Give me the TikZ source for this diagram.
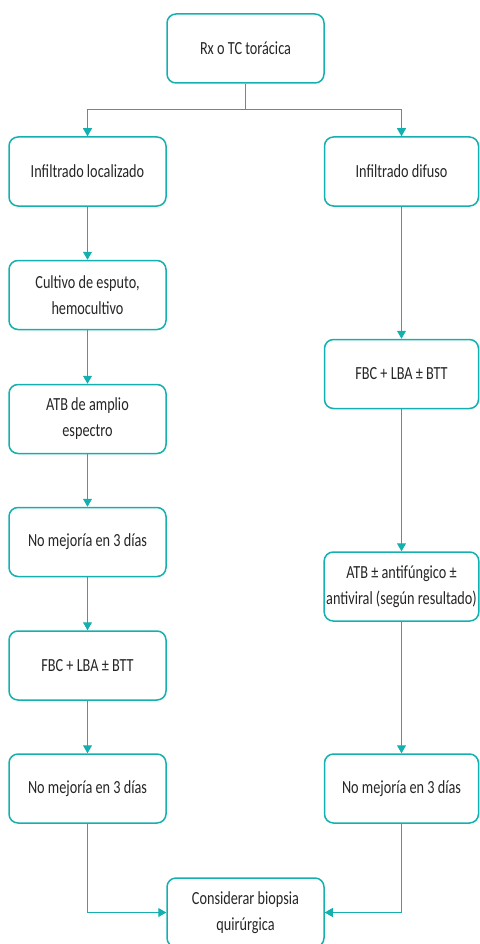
\documentclass[tikz,border=0pt]{standalone}
\usepackage{fontspec}
\setmainfont{Carlito}[FakeStretch=0.77]
\usetikzlibrary{arrows.meta}
\definecolor{tealc}{HTML}{14B0B0}
\definecolor{txt}{HTML}{262626}
\begin{document}
\begin{tikzpicture}[x=1pt,y=-1pt,
  box/.style={draw=tealc, line width=1.5pt, rounded corners=9pt, minimum width=157pt, minimum height=69pt,
    inner sep=2pt, align=center, text=txt, font=\fontsize{18.5}{26}\selectfont},
  rbox/.style={box, minimum width=154pt},
  arr/.style={draw=tealc, line width=1pt, -{Triangle[length=8pt,width=9pt]}},
  ln/.style={draw=tealc, line width=1pt}]
\useasboundingbox (0,0) rectangle (479,944);
\node[box] (top) at (245.5,48.5) {Rx o TC torácica};
\node[box] (L1) at (87.5,171.5) {Infiltrado localizado};
\node[box] (L2) at (87.5,295) {Cultivo de esputo,\\hemocultivo};
\node[box] (L3) at (87.5,419) {ATB de amplio\\espectro};
\node[box] (L4) at (87.5,542) {No mejoría en 3 días};
\node[box] (L5) at (87.5,665.5) {FBC + LBA ± BTT};
\node[box] (L6) at (87.5,788.5) {No mejoría en 3 días};
\node[rbox] (R1) at (401.5,171.5) {Infiltrado difuso};
\node[rbox] (R2) at (401.5,374) {FBC + LBA ± BTT};
\node[rbox] (R3) at (401.5,586.5) {ATB ± antifúngico ±\\antiviral (según resultado)};
\node[rbox] (R4) at (401.5,788.5) {No mejoría en 3 días};
\node[box] (B) at (245.5,912.5) {Considerar biopsia\\quirúrgica};
\coordinate (split) at (245.5,110);
\draw[ln] (top.south) -- (split);
\draw[arr] (split) -| (L1.north);
\draw[arr] (split) -| (R1.north);
\draw[arr] (L1) -- (L2);
\draw[arr] (L2) -- (L3);
\draw[arr] (L3) -- (L4);
\draw[arr] (L4) -- (L5);
\draw[arr] (L5) -- (L6);
\draw[arr] (R1) -- (R2);
\draw[arr] (R2) -- (R3);
\draw[arr] (R3) -- (R4);
\draw[arr] (L6.south) |- (B.west);
\draw[arr] (R4.south) |- (B.east);
\end{tikzpicture}
\end{document}
